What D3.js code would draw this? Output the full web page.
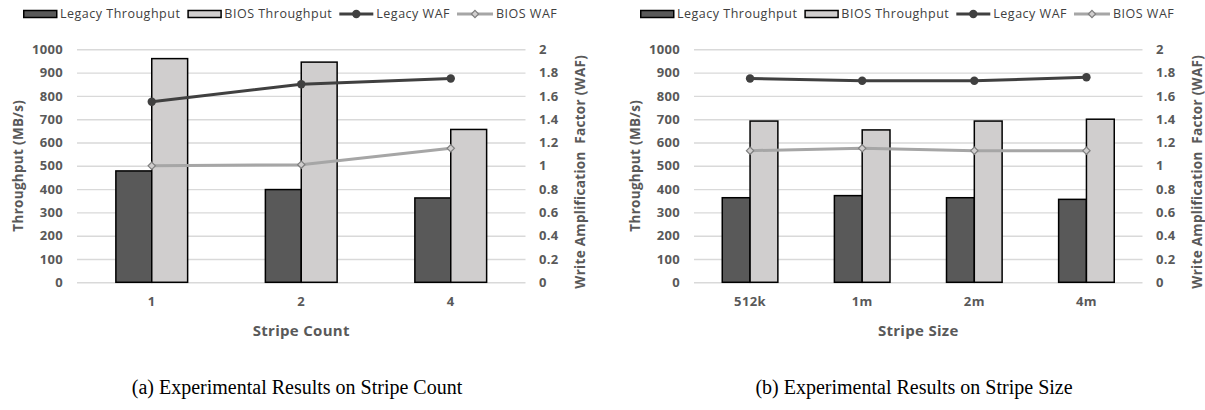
<!DOCTYPE html>
<html>
<head>
<meta charset="utf-8">
<script src="https://cdn.jsdelivr.net/npm/d3@7"></script>
<style>
  html, body { margin: 0; padding: 0; background: #fff; }
  svg { display: block; }
  .sans { font-family: "Open Sans", "Noto Sans", sans-serif; }
</style>
</head>
<body>
<svg id="fig" width="1205" height="410"></svg>
<script>
// ---- data ----
const countCategories = ["1", "2", "4"];
const countLegacyThroughput = [478, 398, 362];
const countBiosThroughput = [960, 945, 656];
const countLegacyWaf = [1.55, 1.70, 1.75];
const countBiosWaf = [1.00, 1.01, 1.15];

const sizeCategories = ["512k", "1m", "2m", "4m"];
const sizeLegacyThroughput = [363, 372, 363, 356];
const sizeBiosThroughput = [692, 654, 692, 700];
const sizeLegacyWaf = [1.75, 1.73, 1.73, 1.76];
const sizeBiosWaf = [1.13, 1.15, 1.13, 1.13];

const throughputTicks = [0, 100, 200, 300, 400, 500, 600, 700, 800, 900, 1000];
const wafTicks = [0, 0.2, 0.4, 0.6, 0.8, 1, 1.2, 1.4, 1.6, 1.8, 2];
const legendLabels = ["Legacy Throughput", "BIOS Throughput", "Legacy WAF", "BIOS WAF"];

// ---- style ----
const TEXT = "#595959";
const LEGEND_TEXT = "#404040";
const DARK = "#595959";
const LIGHT = "#d0cece";
const GRID = "#d9d9d9";
const LEGACY_LINE = "#404040";
const BIOS_LINE = "#a6a6a6";

const svg = d3.select("#fig");
svg.append("rect").attr("width", 1205).attr("height", 410).attr("fill", "#fff");

function drawPanel(offsetX, cfg) {
  const g = svg.append("g").attr("transform", `translate(${offsetX},0)`);
  const plot = { left: 77, right: 525.5, top: 49.3, bottom: 282.3 };

  const x = d3.scaleBand().domain(cfg.categories).range([plot.left, plot.right]).padding(0);
  const y = d3.scaleLinear().domain([0, 1000]).range([plot.bottom, plot.top]);
  const yWaf = d3.scaleLinear().domain([0, 2]).range([plot.bottom, plot.top]);
  const barW = x.bandwidth() * cfg.barFrac;
  const cx = c => x(c) + x.bandwidth() / 2;

  // gridlines
  g.append("g")
    .attr("transform", `translate(${plot.left},0)`)
    .call(d3.axisLeft(y).tickValues(throughputTicks).tickSize(-(plot.right - plot.left)).tickFormat(""))
    .call(a => a.select(".domain").remove())
    .call(a => a.selectAll("line").attr("stroke", GRID).attr("stroke-width", 1.4));

  // left tick labels
  g.append("g")
    .attr("transform", `translate(${plot.left - 14},0)`)
    .call(d3.axisLeft(y).tickValues(throughputTicks).tickSize(0).tickPadding(0).tickFormat(d3.format("d")))
    .call(a => a.select(".domain").remove())
    .call(a => a.selectAll("text").attr("class", "sans").attr("fill", TEXT)
      .attr("font-size", 13).attr("font-weight", 700).attr("letter-spacing", 0.3));

  // right tick labels
  g.append("g")
    .attr("transform", `translate(${plot.right + 13.5},0)`)
    .call(d3.axisRight(yWaf).tickValues(wafTicks).tickSize(0).tickPadding(0).tickFormat(d3.format("~g")))
    .call(a => a.select(".domain").remove())
    .call(a => a.selectAll("text").attr("class", "sans").attr("fill", TEXT)
      .attr("font-size", 13).attr("font-weight", 700).attr("letter-spacing", 0.3));

  // category labels
  g.append("g")
    .attr("transform", `translate(0,${plot.bottom + 14})`)
    .call(d3.axisBottom(x).tickSize(0).tickPadding(0))
    .call(a => a.select(".domain").remove())
    .call(a => a.selectAll("text").attr("class", "sans").attr("fill", TEXT)
      .attr("font-size", 13).attr("font-weight", 700).attr("letter-spacing", 0.4));

  // bars
  g.append("g").selectAll("rect").data(cfg.categories).join("rect")
    .attr("x", c => cx(c) - barW).attr("width", barW)
    .attr("y", (c, i) => y(cfg.legacyThroughput[i]))
    .attr("height", (c, i) => plot.bottom - y(cfg.legacyThroughput[i]))
    .attr("fill", DARK).attr("stroke", "#000").attr("stroke-width", 1.5);
  g.append("g").selectAll("rect").data(cfg.categories).join("rect")
    .attr("x", c => cx(c)).attr("width", barW)
    .attr("y", (c, i) => y(cfg.biosThroughput[i]))
    .attr("height", (c, i) => plot.bottom - y(cfg.biosThroughput[i]))
    .attr("fill", LIGHT).attr("stroke", "#000").attr("stroke-width", 1.5);

  // WAF lines
  const line = d3.line().x(d => cx(d.c)).y(d => yWaf(d.v));
  const legacyPts = cfg.categories.map((c, i) => ({ c, v: cfg.legacyWaf[i] }));
  const biosPts = cfg.categories.map((c, i) => ({ c, v: cfg.biosWaf[i] }));

  g.append("path").datum(biosPts).attr("d", line)
    .attr("fill", "none").attr("stroke", BIOS_LINE).attr("stroke-width", 3);
  g.append("g").selectAll("path").data(biosPts).join("path")
    .attr("d", d3.symbol(d3.symbolDiamond2, 34))
    .attr("transform", d => `translate(${cx(d.c)},${yWaf(d.v)})`)
    .attr("fill", LIGHT).attr("stroke", "#7f7f7f").attr("stroke-width", 1.2);

  g.append("path").datum(legacyPts).attr("d", line)
    .attr("fill", "none").attr("stroke", LEGACY_LINE).attr("stroke-width", 3);
  g.append("g").selectAll("circle").data(legacyPts).join("circle")
    .attr("cx", d => cx(d.c)).attr("cy", d => yWaf(d.v)).attr("r", 4.2)
    .attr("fill", LEGACY_LINE);

  // axis titles
  g.append("text").attr("class", "sans")
    .attr("transform", `translate(23,${(plot.top + plot.bottom) / 2}) rotate(-90)`)
    .attr("text-anchor", "middle").attr("fill", TEXT)
    .attr("font-size", 13.5).attr("font-weight", 700).attr("letter-spacing", 0.3)
    .text("Throughput (MB/s)");
  g.append("text").attr("class", "sans")
    .attr("transform", `translate(585,${(plot.top + plot.bottom) / 2 + 6}) rotate(-90)`)
    .attr("text-anchor", "middle").attr("fill", TEXT)
    .attr("font-size", 13.5).attr("font-weight", 700).attr("letter-spacing", 0.3)
    .attr("xml:space", "preserve")
    .text("Write Amplification  Factor (WAF)");
  g.append("text").attr("class", "sans")
    .attr("x", (plot.left + plot.right) / 2).attr("y", 336)
    .attr("text-anchor", "middle").attr("fill", TEXT)
    .attr("font-size", 15).attr("font-weight", 700).attr("letter-spacing", 0.3)
    .text(cfg.axisTitle);

  // caption
  g.append("text")
    .attr("x", 297).attr("y", 394)
    .attr("text-anchor", "middle").attr("fill", "#000")
    .attr("font-family", "'Liberation Serif', 'Times New Roman', serif")
    .attr("font-size", 20)
    .text(cfg.caption);

  // legend
  const lg = g.append("g").attr("transform", "translate(23,14)");
  let lx = 0;
  legendLabels.forEach((label, i) => {
    const item = lg.append("g").attr("transform", `translate(${lx},0)`);
    if (i < 2) {
      item.append("rect").attr("x", 0.75).attr("y", -3.5).attr("width", 33).attr("height", 7)
        .attr("fill", i === 0 ? DARK : LIGHT).attr("stroke", "#000").attr("stroke-width", 1.5);
    } else if (i === 2) {
      item.append("line").attr("x1", 0).attr("x2", 34).attr("y1", 0).attr("y2", 0)
        .attr("stroke", LEGACY_LINE).attr("stroke-width", 3);
      item.append("circle").attr("cx", 17).attr("cy", 0).attr("r", 4.2).attr("fill", LEGACY_LINE);
    } else {
      item.append("line").attr("x1", 0).attr("x2", 36).attr("y1", 0).attr("y2", 0)
        .attr("stroke", BIOS_LINE).attr("stroke-width", 3);
      item.append("path").attr("d", d3.symbol(d3.symbolDiamond2, 34))
        .attr("transform", "translate(18,0)")
        .attr("fill", LIGHT).attr("stroke", "#7f7f7f").attr("stroke-width", 1.2);
    }
    const swW = i === 3 ? 36 : 34;
    const t = item.append("text").attr("class", "sans")
      .attr("x", swW + 3).attr("y", 0).attr("dy", "0.35em")
      .attr("fill", LEGEND_TEXT).attr("font-size", 12.5).attr("font-weight", 500)
      .attr("letter-spacing", 0.5)
      .text(label);
    lx += swW + 3 + t.node().getComputedTextLength() + 7;
  });
}

drawPanel(0, {
  categories: countCategories,
  legacyThroughput: countLegacyThroughput,
  biosThroughput: countBiosThroughput,
  legacyWaf: countLegacyWaf,
  biosWaf: countBiosWaf,
  barFrac: 0.24,
  axisTitle: "Stripe Count",
  caption: "(a) Experimental Results on Stripe Count"
});

drawPanel(617, {
  categories: sizeCategories,
  legacyThroughput: sizeLegacyThroughput,
  biosThroughput: sizeBiosThroughput,
  legacyWaf: sizeLegacyWaf,
  biosWaf: sizeBiosWaf,
  barFrac: 0.248,
  axisTitle: "Stripe Size",
  caption: "(b) Experimental Results on Stripe Size"
});
</script>
</body>
</html>
